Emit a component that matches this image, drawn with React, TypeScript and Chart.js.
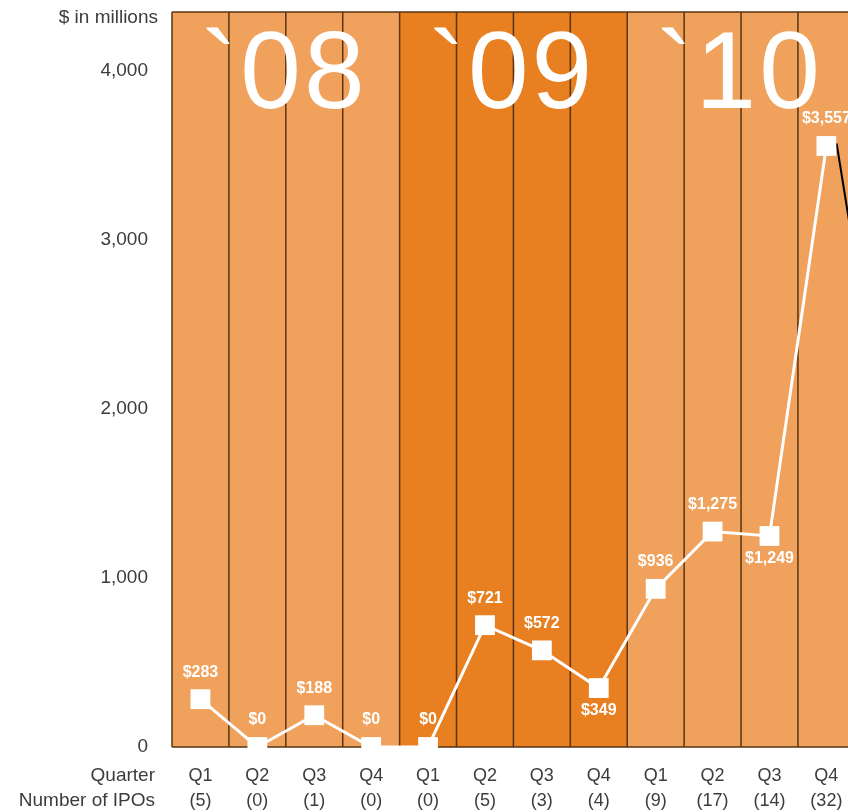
import { useEffect, useRef } from 'react';
import { Chart, registerables } from 'chart.js';
Chart.register(...registerables);

const quarters = ['Q1', 'Q2', 'Q3', 'Q4', 'Q1', 'Q2', 'Q3', 'Q4', 'Q1', 'Q2', 'Q3', 'Q4'];
const ipoCounts = [5, 0, 1, 0, 0, 5, 3, 4, 9, 17, 14, 32];
const proceeds = [283, 0, 188, 0, 0, 721, 572, 349, 936, 1275, 1249, 3557];
const years = ['`08', '`09', '`10'];
const yearShade = ['light', 'dark', 'light'];
const labelSide = ['above', 'above', 'above', 'above', 'above', 'above', 'above', 'below', 'above', 'above', 'below', 'above'];
const yTicks = [0, 1000, 2000, 3000, 4000];
const calloutLine = [{ x: 11.18, y: 3573 }, { x: 11.5, y: 2900 }];

const FONT = '"Liberation Sans", Arial, Helvetica, sans-serif';
const LIGHT = '#F0A15C';
const DARK = '#E87F20';
const SEP = '#5a3412';
const TEXT = '#3c3c3c';

const fmt = (v: number) => '$' + v.toLocaleString('en-US');

const zeroPad = (s: any) => {
  s.paddingTop = 0;
  s.paddingBottom = 0;
  s.paddingLeft = 0;
  s.paddingRight = 0;
};

export default function App() {
  const ref = useRef<HTMLCanvasElement>(null);

  useEffect(() => {
    if (!ref.current) return;

    const bgPlugin = {
      id: 'bgPlugin',
      beforeDatasetsDraw(chart: any) {
        const { ctx, chartArea: a, scales } = chart;
        const x = scales.x;
        ctx.save();
        quarters.forEach((_q, i) => {
          const x0 = x.getPixelForValue(i - 0.5);
          const x1 = x.getPixelForValue(i + 0.5);
          ctx.fillStyle = yearShade[Math.floor(i / 4)] === 'dark' ? DARK : LIGHT;
          ctx.fillRect(x0, a.top, x1 - x0, a.bottom - a.top);
        });
        ctx.strokeStyle = SEP;
        ctx.lineWidth = 1.5;
        ctx.beginPath();
        for (let i = 0; i <= quarters.length; i++) {
          const px = x.getPixelForValue(i - 0.5);
          ctx.moveTo(px, a.top);
          ctx.lineTo(px, a.bottom);
        }
        ctx.moveTo(a.left, a.top);
        ctx.lineTo(a.right, a.top);
        ctx.moveTo(a.left, a.bottom);
        ctx.lineTo(a.right, a.bottom);
        ctx.stroke();

        // year labels
        ctx.fillStyle = '#ffffff';
        ctx.font = `109px ${FONT}`;
        (ctx as any).letterSpacing = '3px';
        ctx.textAlign = 'left';
        ctx.textBaseline = 'alphabetic';
        years.forEach((yr, g) => {
          const cx = x.getPixelForValue(g * 4 + 1.5) - 3;
          const w = ctx.measureText(yr).width - 3;
          ctx.fillText(yr, cx - w / 2, a.top + 96);
        });
        (ctx as any).letterSpacing = '0px';

        // left side titles
        ctx.fillStyle = TEXT;
        ctx.font = `19px ${FONT}`;
        ctx.textAlign = 'right';
        ctx.textBaseline = 'middle';
        ctx.fillText('$ in millions', a.left - 14, a.top + 6);
        ctx.fillText('Quarter', a.left - 17, a.bottom + 29);
        ctx.fillText('Number of IPOs', a.left - 17, a.bottom + 54);
        ctx.restore();
      },
    };

    const labelPlugin = {
      id: 'labelPlugin',
      afterDatasetsDraw(chart: any) {
        const { ctx } = chart;
        const meta = chart.getDatasetMeta(0);
        ctx.save();
        ctx.fillStyle = '#ffffff';
        ctx.font = `bold 16px ${FONT}`;
        ctx.textAlign = 'center';
        ctx.textBaseline = 'middle';
        meta.data.forEach((pt: any, i: number) => {
          const dy = labelSide[i] === 'below' ? 23 : -27;
          ctx.fillText(fmt(proceeds[i]), pt.x, pt.y + dy);
        });
        ctx.restore();
      },
    };

    const chart = new Chart(ref.current, {
      type: 'line',
      data: {
        datasets: [
          {
            label: 'IPO proceeds',
            data: proceeds.map((v, i) => ({ x: i, y: v })),
            borderColor: '#ffffff',
            borderWidth: 3,
            backgroundColor: '#ffffff',
            pointStyle: 'rect',
            pointRadius: 14,
            pointBorderWidth: 0,
            pointBackgroundColor: '#ffffff',
            tension: 0,
            clip: false as any,
          },
          {
            label: 'callout',
            data: calloutLine,
            borderColor: '#000000',
            borderWidth: 2,
            pointRadius: 0,
            tension: 0,
          },
        ],
      },
      options: {
        responsive: false,
        animation: false,
        layout: { autoPadding: false, padding: { top: 12, left: 0, right: 0, bottom: 0 } },
        plugins: {
          legend: { display: false },
          tooltip: { enabled: false },
        },
        scales: {
          x: {
            type: 'linear',
            min: -0.5,
            max: 11.38,
            afterBuildTicks: (s: any) => {
              s.ticks = quarters.map((_q, i) => ({ value: i }));
            },
            afterFit: (s: any) => {
              s.height = 65;
              zeroPad(s);
            },
            grid: { display: false, drawTicks: false },
            border: { display: false },
            ticks: {
              autoSkip: false,
              maxRotation: 0,
              padding: 17,
              color: TEXT,
              font: { family: FONT, size: 18, lineHeight: 25 / 18 },
              callback: (v: any) => [quarters[v], `(${ipoCounts[v]})`],
            },
          },
          y: {
            min: 0,
            max: 4350,
            afterBuildTicks: (s: any) => {
              s.ticks = yTicks.map((v) => ({ value: v }));
            },
            afterFit: (s: any) => {
              s.width = 172;
              zeroPad(s);
            },
            grid: { display: false, drawTicks: false },
            border: { display: false },
            ticks: {
              padding: 24,
              color: TEXT,
              font: { family: FONT, size: 19 },
              callback: (v: any) => Number(v).toLocaleString('en-US'),
            },
          },
        },
      },
      plugins: [bgPlugin, labelPlugin],
    });

    return () => chart.destroy();
  }, []);

  return (
    <div style={{ position: 'fixed', left: 0, top: 0, width: 848, height: 812, overflow: 'hidden', background: '#fff' }}>
      <canvas ref={ref} width={848} height={812} style={{ display: 'block' }} />
    </div>
  );
}
